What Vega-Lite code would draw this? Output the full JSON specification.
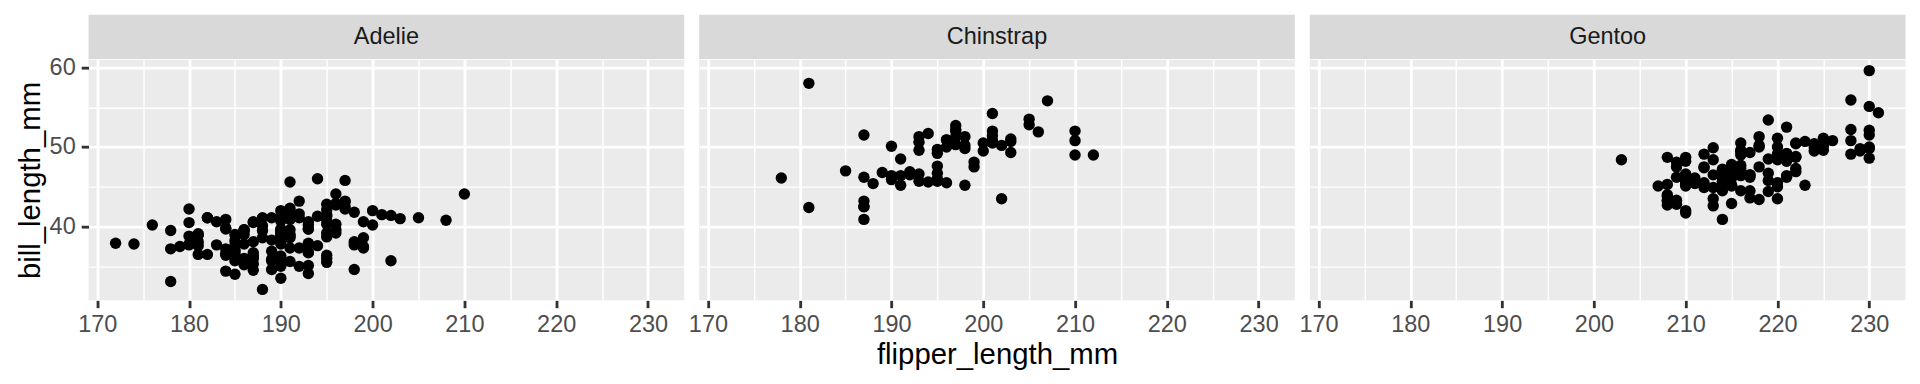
{
  "$schema": "https://vega.github.io/schema/vega-lite/v6.json",
  "background": "white",
  "autosize": {"type": "pad"},
  "padding": {"left": 15.5, "top": 14.67, "right": 0, "bottom": 0},
  "config": {"font": "Liberation Sans", "view": {"stroke": null}},
  "bounds": "flush",
  "columns": 3,
  "spacing": {"row": 0, "column": 14.67},
  "datasets": {
    "penguins": [
      {"species":"Adelie","flipper_length_mm":181,"bill_length_mm":39.1},{"species":"Adelie","flipper_length_mm":186,"bill_length_mm":39.5},{"species":"Adelie","flipper_length_mm":195,"bill_length_mm":40.3},{"species":"Adelie","flipper_length_mm":193,"bill_length_mm":36.7},{"species":"Adelie","flipper_length_mm":190,"bill_length_mm":39.3},{"species":"Adelie","flipper_length_mm":181,"bill_length_mm":38.9},{"species":"Adelie","flipper_length_mm":195,"bill_length_mm":39.2},{"species":"Adelie","flipper_length_mm":193,"bill_length_mm":34.1},{"species":"Adelie","flipper_length_mm":190,"bill_length_mm":42.0},{"species":"Adelie","flipper_length_mm":186,"bill_length_mm":37.8},
      {"species":"Adelie","flipper_length_mm":180,"bill_length_mm":37.8},{"species":"Adelie","flipper_length_mm":182,"bill_length_mm":41.1},{"species":"Adelie","flipper_length_mm":191,"bill_length_mm":38.6},{"species":"Adelie","flipper_length_mm":198,"bill_length_mm":34.6},{"species":"Adelie","flipper_length_mm":185,"bill_length_mm":36.6},{"species":"Adelie","flipper_length_mm":195,"bill_length_mm":38.7},{"species":"Adelie","flipper_length_mm":197,"bill_length_mm":42.5},{"species":"Adelie","flipper_length_mm":184,"bill_length_mm":34.4},{"species":"Adelie","flipper_length_mm":194,"bill_length_mm":46.0},{"species":"Adelie","flipper_length_mm":174,"bill_length_mm":37.8},
      {"species":"Adelie","flipper_length_mm":180,"bill_length_mm":37.7},{"species":"Adelie","flipper_length_mm":189,"bill_length_mm":35.9},{"species":"Adelie","flipper_length_mm":185,"bill_length_mm":38.2},{"species":"Adelie","flipper_length_mm":180,"bill_length_mm":38.8},{"species":"Adelie","flipper_length_mm":187,"bill_length_mm":35.3},{"species":"Adelie","flipper_length_mm":183,"bill_length_mm":40.6},{"species":"Adelie","flipper_length_mm":187,"bill_length_mm":40.5},{"species":"Adelie","flipper_length_mm":172,"bill_length_mm":37.9},{"species":"Adelie","flipper_length_mm":180,"bill_length_mm":40.5},{"species":"Adelie","flipper_length_mm":178,"bill_length_mm":39.5},
      {"species":"Adelie","flipper_length_mm":178,"bill_length_mm":37.2},{"species":"Adelie","flipper_length_mm":188,"bill_length_mm":39.5},{"species":"Adelie","flipper_length_mm":184,"bill_length_mm":40.9},{"species":"Adelie","flipper_length_mm":195,"bill_length_mm":36.4},{"species":"Adelie","flipper_length_mm":196,"bill_length_mm":39.2},{"species":"Adelie","flipper_length_mm":190,"bill_length_mm":38.8},{"species":"Adelie","flipper_length_mm":180,"bill_length_mm":42.2},{"species":"Adelie","flipper_length_mm":181,"bill_length_mm":37.6},{"species":"Adelie","flipper_length_mm":184,"bill_length_mm":39.8},{"species":"Adelie","flipper_length_mm":182,"bill_length_mm":36.5},
      {"species":"Adelie","flipper_length_mm":195,"bill_length_mm":40.8},{"species":"Adelie","flipper_length_mm":186,"bill_length_mm":36.0},{"species":"Adelie","flipper_length_mm":196,"bill_length_mm":44.1},{"species":"Adelie","flipper_length_mm":185,"bill_length_mm":37.0},{"species":"Adelie","flipper_length_mm":190,"bill_length_mm":39.6},{"species":"Adelie","flipper_length_mm":182,"bill_length_mm":41.1},{"species":"Adelie","flipper_length_mm":179,"bill_length_mm":37.5},{"species":"Adelie","flipper_length_mm":190,"bill_length_mm":36.0},{"species":"Adelie","flipper_length_mm":191,"bill_length_mm":42.3},{"species":"Adelie","flipper_length_mm":186,"bill_length_mm":39.6},
      {"species":"Adelie","flipper_length_mm":188,"bill_length_mm":40.1},{"species":"Adelie","flipper_length_mm":190,"bill_length_mm":35.0},{"species":"Adelie","flipper_length_mm":200,"bill_length_mm":42.0},{"species":"Adelie","flipper_length_mm":187,"bill_length_mm":34.5},{"species":"Adelie","flipper_length_mm":191,"bill_length_mm":41.4},{"species":"Adelie","flipper_length_mm":186,"bill_length_mm":39.0},{"species":"Adelie","flipper_length_mm":193,"bill_length_mm":40.6},{"species":"Adelie","flipper_length_mm":181,"bill_length_mm":36.5},{"species":"Adelie","flipper_length_mm":194,"bill_length_mm":37.6},{"species":"Adelie","flipper_length_mm":185,"bill_length_mm":35.7},
      {"species":"Adelie","flipper_length_mm":195,"bill_length_mm":41.3},{"species":"Adelie","flipper_length_mm":185,"bill_length_mm":37.6},{"species":"Adelie","flipper_length_mm":192,"bill_length_mm":41.1},{"species":"Adelie","flipper_length_mm":184,"bill_length_mm":36.4},{"species":"Adelie","flipper_length_mm":192,"bill_length_mm":41.6},{"species":"Adelie","flipper_length_mm":195,"bill_length_mm":35.5},{"species":"Adelie","flipper_length_mm":188,"bill_length_mm":41.1},{"species":"Adelie","flipper_length_mm":190,"bill_length_mm":35.9},{"species":"Adelie","flipper_length_mm":198,"bill_length_mm":41.8},{"species":"Adelie","flipper_length_mm":190,"bill_length_mm":33.5},
      {"species":"Adelie","flipper_length_mm":190,"bill_length_mm":39.7},{"species":"Adelie","flipper_length_mm":196,"bill_length_mm":39.6},{"species":"Adelie","flipper_length_mm":197,"bill_length_mm":45.8},{"species":"Adelie","flipper_length_mm":190,"bill_length_mm":35.5},{"species":"Adelie","flipper_length_mm":195,"bill_length_mm":42.8},{"species":"Adelie","flipper_length_mm":191,"bill_length_mm":40.9},{"species":"Adelie","flipper_length_mm":184,"bill_length_mm":37.2},{"species":"Adelie","flipper_length_mm":187,"bill_length_mm":36.2},{"species":"Adelie","flipper_length_mm":195,"bill_length_mm":42.1},{"species":"Adelie","flipper_length_mm":189,"bill_length_mm":34.6},
      {"species":"Adelie","flipper_length_mm":196,"bill_length_mm":42.9},{"species":"Adelie","flipper_length_mm":187,"bill_length_mm":36.7},{"species":"Adelie","flipper_length_mm":193,"bill_length_mm":35.1},{"species":"Adelie","flipper_length_mm":191,"bill_length_mm":37.3},{"species":"Adelie","flipper_length_mm":194,"bill_length_mm":41.3},{"species":"Adelie","flipper_length_mm":190,"bill_length_mm":36.3},{"species":"Adelie","flipper_length_mm":189,"bill_length_mm":36.9},{"species":"Adelie","flipper_length_mm":189,"bill_length_mm":38.3},{"species":"Adelie","flipper_length_mm":190,"bill_length_mm":38.9},{"species":"Adelie","flipper_length_mm":202,"bill_length_mm":35.7},
      {"species":"Adelie","flipper_length_mm":205,"bill_length_mm":41.1},{"species":"Adelie","flipper_length_mm":185,"bill_length_mm":34.0},{"species":"Adelie","flipper_length_mm":186,"bill_length_mm":39.6},{"species":"Adelie","flipper_length_mm":187,"bill_length_mm":36.2},{"species":"Adelie","flipper_length_mm":208,"bill_length_mm":40.8},{"species":"Adelie","flipper_length_mm":190,"bill_length_mm":38.1},{"species":"Adelie","flipper_length_mm":196,"bill_length_mm":40.3},{"species":"Adelie","flipper_length_mm":178,"bill_length_mm":33.1},{"species":"Adelie","flipper_length_mm":192,"bill_length_mm":43.2},{"species":"Adelie","flipper_length_mm":192,"bill_length_mm":35.0},
      {"species":"Adelie","flipper_length_mm":203,"bill_length_mm":41.0},{"species":"Adelie","flipper_length_mm":183,"bill_length_mm":37.7},{"species":"Adelie","flipper_length_mm":190,"bill_length_mm":37.8},{"species":"Adelie","flipper_length_mm":193,"bill_length_mm":37.9},{"species":"Adelie","flipper_length_mm":184,"bill_length_mm":39.7},{"species":"Adelie","flipper_length_mm":199,"bill_length_mm":38.6},{"species":"Adelie","flipper_length_mm":190,"bill_length_mm":38.2},{"species":"Adelie","flipper_length_mm":181,"bill_length_mm":38.1},{"species":"Adelie","flipper_length_mm":197,"bill_length_mm":43.2},{"species":"Adelie","flipper_length_mm":198,"bill_length_mm":38.1},
      {"species":"Adelie","flipper_length_mm":191,"bill_length_mm":45.6},{"species":"Adelie","flipper_length_mm":193,"bill_length_mm":39.7},{"species":"Adelie","flipper_length_mm":197,"bill_length_mm":42.2},{"species":"Adelie","flipper_length_mm":191,"bill_length_mm":39.6},{"species":"Adelie","flipper_length_mm":196,"bill_length_mm":42.7},{"species":"Adelie","flipper_length_mm":188,"bill_length_mm":38.6},{"species":"Adelie","flipper_length_mm":199,"bill_length_mm":37.3},{"species":"Adelie","flipper_length_mm":189,"bill_length_mm":35.7},{"species":"Adelie","flipper_length_mm":189,"bill_length_mm":41.1},{"species":"Adelie","flipper_length_mm":187,"bill_length_mm":36.2},
      {"species":"Adelie","flipper_length_mm":198,"bill_length_mm":37.7},{"species":"Adelie","flipper_length_mm":176,"bill_length_mm":40.2},{"species":"Adelie","flipper_length_mm":202,"bill_length_mm":41.4},{"species":"Adelie","flipper_length_mm":186,"bill_length_mm":35.2},{"species":"Adelie","flipper_length_mm":199,"bill_length_mm":40.6},{"species":"Adelie","flipper_length_mm":191,"bill_length_mm":38.8},{"species":"Adelie","flipper_length_mm":195,"bill_length_mm":41.5},{"species":"Adelie","flipper_length_mm":191,"bill_length_mm":39.0},{"species":"Adelie","flipper_length_mm":210,"bill_length_mm":44.1},{"species":"Adelie","flipper_length_mm":190,"bill_length_mm":38.5},
      {"species":"Adelie","flipper_length_mm":197,"bill_length_mm":43.1},{"species":"Adelie","flipper_length_mm":193,"bill_length_mm":36.8},{"species":"Adelie","flipper_length_mm":199,"bill_length_mm":37.5},{"species":"Adelie","flipper_length_mm":187,"bill_length_mm":38.1},{"species":"Adelie","flipper_length_mm":190,"bill_length_mm":41.1},{"species":"Adelie","flipper_length_mm":191,"bill_length_mm":35.6},{"species":"Adelie","flipper_length_mm":200,"bill_length_mm":40.2},{"species":"Adelie","flipper_length_mm":185,"bill_length_mm":37.0},{"species":"Adelie","flipper_length_mm":193,"bill_length_mm":39.7},{"species":"Adelie","flipper_length_mm":193,"bill_length_mm":40.2},
      {"species":"Adelie","flipper_length_mm":187,"bill_length_mm":40.6},{"species":"Adelie","flipper_length_mm":188,"bill_length_mm":32.1},{"species":"Adelie","flipper_length_mm":190,"bill_length_mm":40.7},{"species":"Adelie","flipper_length_mm":192,"bill_length_mm":37.3},{"species":"Adelie","flipper_length_mm":185,"bill_length_mm":39.0},{"species":"Adelie","flipper_length_mm":190,"bill_length_mm":39.2},{"species":"Adelie","flipper_length_mm":184,"bill_length_mm":36.6},{"species":"Adelie","flipper_length_mm":195,"bill_length_mm":36.0},{"species":"Adelie","flipper_length_mm":193,"bill_length_mm":37.8},{"species":"Adelie","flipper_length_mm":187,"bill_length_mm":36.0},
      {"species":"Adelie","flipper_length_mm":201,"bill_length_mm":41.5},
      {"species":"Chinstrap","flipper_length_mm":192,"bill_length_mm":46.5},{"species":"Chinstrap","flipper_length_mm":196,"bill_length_mm":50.0},{"species":"Chinstrap","flipper_length_mm":193,"bill_length_mm":51.3},{"species":"Chinstrap","flipper_length_mm":188,"bill_length_mm":45.4},{"species":"Chinstrap","flipper_length_mm":197,"bill_length_mm":52.7},{"species":"Chinstrap","flipper_length_mm":198,"bill_length_mm":45.2},{"species":"Chinstrap","flipper_length_mm":178,"bill_length_mm":46.1},{"species":"Chinstrap","flipper_length_mm":197,"bill_length_mm":51.3},{"species":"Chinstrap","flipper_length_mm":195,"bill_length_mm":46.0},{"species":"Chinstrap","flipper_length_mm":198,"bill_length_mm":51.3},
      {"species":"Chinstrap","flipper_length_mm":193,"bill_length_mm":46.6},{"species":"Chinstrap","flipper_length_mm":194,"bill_length_mm":51.7},{"species":"Chinstrap","flipper_length_mm":185,"bill_length_mm":47.0},{"species":"Chinstrap","flipper_length_mm":201,"bill_length_mm":52.0},{"species":"Chinstrap","flipper_length_mm":190,"bill_length_mm":45.9},{"species":"Chinstrap","flipper_length_mm":201,"bill_length_mm":50.5},{"species":"Chinstrap","flipper_length_mm":197,"bill_length_mm":50.3},{"species":"Chinstrap","flipper_length_mm":181,"bill_length_mm":58.0},{"species":"Chinstrap","flipper_length_mm":190,"bill_length_mm":46.4},{"species":"Chinstrap","flipper_length_mm":195,"bill_length_mm":49.2},
      {"species":"Chinstrap","flipper_length_mm":181,"bill_length_mm":42.4},{"species":"Chinstrap","flipper_length_mm":191,"bill_length_mm":48.5},{"species":"Chinstrap","flipper_length_mm":187,"bill_length_mm":43.2},{"species":"Chinstrap","flipper_length_mm":193,"bill_length_mm":50.6},{"species":"Chinstrap","flipper_length_mm":195,"bill_length_mm":46.7},{"species":"Chinstrap","flipper_length_mm":197,"bill_length_mm":52.0},{"species":"Chinstrap","flipper_length_mm":200,"bill_length_mm":50.5},{"species":"Chinstrap","flipper_length_mm":200,"bill_length_mm":49.5},{"species":"Chinstrap","flipper_length_mm":191,"bill_length_mm":46.4},{"species":"Chinstrap","flipper_length_mm":205,"bill_length_mm":52.8},
      {"species":"Chinstrap","flipper_length_mm":187,"bill_length_mm":40.9},{"species":"Chinstrap","flipper_length_mm":201,"bill_length_mm":54.2},{"species":"Chinstrap","flipper_length_mm":187,"bill_length_mm":42.5},{"species":"Chinstrap","flipper_length_mm":203,"bill_length_mm":51.0},{"species":"Chinstrap","flipper_length_mm":195,"bill_length_mm":49.7},{"species":"Chinstrap","flipper_length_mm":199,"bill_length_mm":47.5},{"species":"Chinstrap","flipper_length_mm":195,"bill_length_mm":47.6},{"species":"Chinstrap","flipper_length_mm":210,"bill_length_mm":52.0},{"species":"Chinstrap","flipper_length_mm":192,"bill_length_mm":46.9},{"species":"Chinstrap","flipper_length_mm":205,"bill_length_mm":53.5},
      {"species":"Chinstrap","flipper_length_mm":210,"bill_length_mm":49.0},{"species":"Chinstrap","flipper_length_mm":187,"bill_length_mm":46.2},{"species":"Chinstrap","flipper_length_mm":196,"bill_length_mm":50.9},{"species":"Chinstrap","flipper_length_mm":196,"bill_length_mm":45.5},{"species":"Chinstrap","flipper_length_mm":196,"bill_length_mm":50.9},{"species":"Chinstrap","flipper_length_mm":201,"bill_length_mm":50.8},{"species":"Chinstrap","flipper_length_mm":190,"bill_length_mm":50.1},{"species":"Chinstrap","flipper_length_mm":212,"bill_length_mm":49.0},{"species":"Chinstrap","flipper_length_mm":187,"bill_length_mm":51.5},{"species":"Chinstrap","flipper_length_mm":198,"bill_length_mm":49.8},
      {"species":"Chinstrap","flipper_length_mm":199,"bill_length_mm":48.1},{"species":"Chinstrap","flipper_length_mm":201,"bill_length_mm":51.4},{"species":"Chinstrap","flipper_length_mm":193,"bill_length_mm":45.7},{"species":"Chinstrap","flipper_length_mm":203,"bill_length_mm":50.7},{"species":"Chinstrap","flipper_length_mm":187,"bill_length_mm":42.5},{"species":"Chinstrap","flipper_length_mm":197,"bill_length_mm":52.2},{"species":"Chinstrap","flipper_length_mm":191,"bill_length_mm":45.2},{"species":"Chinstrap","flipper_length_mm":203,"bill_length_mm":49.3},{"species":"Chinstrap","flipper_length_mm":202,"bill_length_mm":50.2},{"species":"Chinstrap","flipper_length_mm":194,"bill_length_mm":45.6},
      {"species":"Chinstrap","flipper_length_mm":206,"bill_length_mm":51.9},{"species":"Chinstrap","flipper_length_mm":189,"bill_length_mm":46.8},{"species":"Chinstrap","flipper_length_mm":195,"bill_length_mm":45.7},{"species":"Chinstrap","flipper_length_mm":207,"bill_length_mm":55.8},{"species":"Chinstrap","flipper_length_mm":202,"bill_length_mm":43.5},{"species":"Chinstrap","flipper_length_mm":193,"bill_length_mm":49.6},{"species":"Chinstrap","flipper_length_mm":210,"bill_length_mm":50.8},{"species":"Chinstrap","flipper_length_mm":198,"bill_length_mm":50.2},
      {"species":"Gentoo","flipper_length_mm":211,"bill_length_mm":46.1},{"species":"Gentoo","flipper_length_mm":230,"bill_length_mm":50.0},{"species":"Gentoo","flipper_length_mm":210,"bill_length_mm":48.7},{"species":"Gentoo","flipper_length_mm":218,"bill_length_mm":50.0},{"species":"Gentoo","flipper_length_mm":215,"bill_length_mm":47.6},{"species":"Gentoo","flipper_length_mm":210,"bill_length_mm":46.5},{"species":"Gentoo","flipper_length_mm":211,"bill_length_mm":45.4},{"species":"Gentoo","flipper_length_mm":219,"bill_length_mm":46.7},{"species":"Gentoo","flipper_length_mm":209,"bill_length_mm":43.3},{"species":"Gentoo","flipper_length_mm":215,"bill_length_mm":46.8},
      {"species":"Gentoo","flipper_length_mm":214,"bill_length_mm":40.9},{"species":"Gentoo","flipper_length_mm":216,"bill_length_mm":49.0},{"species":"Gentoo","flipper_length_mm":214,"bill_length_mm":45.5},{"species":"Gentoo","flipper_length_mm":213,"bill_length_mm":48.4},{"species":"Gentoo","flipper_length_mm":210,"bill_length_mm":45.8},{"species":"Gentoo","flipper_length_mm":217,"bill_length_mm":49.3},{"species":"Gentoo","flipper_length_mm":210,"bill_length_mm":42.0},{"species":"Gentoo","flipper_length_mm":221,"bill_length_mm":49.2},{"species":"Gentoo","flipper_length_mm":209,"bill_length_mm":46.2},{"species":"Gentoo","flipper_length_mm":222,"bill_length_mm":48.7},
      {"species":"Gentoo","flipper_length_mm":218,"bill_length_mm":50.2},{"species":"Gentoo","flipper_length_mm":215,"bill_length_mm":45.1},{"species":"Gentoo","flipper_length_mm":213,"bill_length_mm":46.5},{"species":"Gentoo","flipper_length_mm":215,"bill_length_mm":46.3},{"species":"Gentoo","flipper_length_mm":215,"bill_length_mm":42.9},{"species":"Gentoo","flipper_length_mm":215,"bill_length_mm":46.1},{"species":"Gentoo","flipper_length_mm":216,"bill_length_mm":44.5},{"species":"Gentoo","flipper_length_mm":215,"bill_length_mm":47.8},{"species":"Gentoo","flipper_length_mm":210,"bill_length_mm":48.2},{"species":"Gentoo","flipper_length_mm":220,"bill_length_mm":50.0},
      {"species":"Gentoo","flipper_length_mm":222,"bill_length_mm":47.3},{"species":"Gentoo","flipper_length_mm":209,"bill_length_mm":42.8},{"species":"Gentoo","flipper_length_mm":207,"bill_length_mm":45.1},{"species":"Gentoo","flipper_length_mm":230,"bill_length_mm":59.6},{"species":"Gentoo","flipper_length_mm":220,"bill_length_mm":49.1},{"species":"Gentoo","flipper_length_mm":220,"bill_length_mm":48.4},{"species":"Gentoo","flipper_length_mm":213,"bill_length_mm":42.6},{"species":"Gentoo","flipper_length_mm":219,"bill_length_mm":44.4},{"species":"Gentoo","flipper_length_mm":208,"bill_length_mm":44.0},{"species":"Gentoo","flipper_length_mm":208,"bill_length_mm":48.7},
      {"species":"Gentoo","flipper_length_mm":208,"bill_length_mm":42.7},{"species":"Gentoo","flipper_length_mm":225,"bill_length_mm":49.6},{"species":"Gentoo","flipper_length_mm":210,"bill_length_mm":45.3},{"species":"Gentoo","flipper_length_mm":216,"bill_length_mm":49.6},{"species":"Gentoo","flipper_length_mm":222,"bill_length_mm":50.5},{"species":"Gentoo","flipper_length_mm":217,"bill_length_mm":43.6},{"species":"Gentoo","flipper_length_mm":210,"bill_length_mm":45.5},{"species":"Gentoo","flipper_length_mm":225,"bill_length_mm":50.5},{"species":"Gentoo","flipper_length_mm":213,"bill_length_mm":44.9},{"species":"Gentoo","flipper_length_mm":215,"bill_length_mm":45.2},
      {"species":"Gentoo","flipper_length_mm":210,"bill_length_mm":46.6},{"species":"Gentoo","flipper_length_mm":220,"bill_length_mm":48.5},{"species":"Gentoo","flipper_length_mm":210,"bill_length_mm":45.1},{"species":"Gentoo","flipper_length_mm":225,"bill_length_mm":50.1},{"species":"Gentoo","flipper_length_mm":217,"bill_length_mm":46.5},{"species":"Gentoo","flipper_length_mm":220,"bill_length_mm":45.0},{"species":"Gentoo","flipper_length_mm":208,"bill_length_mm":43.8},{"species":"Gentoo","flipper_length_mm":220,"bill_length_mm":45.5},{"species":"Gentoo","flipper_length_mm":208,"bill_length_mm":43.2},{"species":"Gentoo","flipper_length_mm":224,"bill_length_mm":50.4},
      {"species":"Gentoo","flipper_length_mm":208,"bill_length_mm":45.3},{"species":"Gentoo","flipper_length_mm":221,"bill_length_mm":46.2},{"species":"Gentoo","flipper_length_mm":214,"bill_length_mm":45.7},{"species":"Gentoo","flipper_length_mm":231,"bill_length_mm":54.3},{"species":"Gentoo","flipper_length_mm":219,"bill_length_mm":45.8},{"species":"Gentoo","flipper_length_mm":230,"bill_length_mm":49.8},{"species":"Gentoo","flipper_length_mm":214,"bill_length_mm":46.2},{"species":"Gentoo","flipper_length_mm":229,"bill_length_mm":49.5},{"species":"Gentoo","flipper_length_mm":220,"bill_length_mm":43.5},{"species":"Gentoo","flipper_length_mm":223,"bill_length_mm":50.7},
      {"species":"Gentoo","flipper_length_mm":216,"bill_length_mm":47.7},{"species":"Gentoo","flipper_length_mm":221,"bill_length_mm":46.4},{"species":"Gentoo","flipper_length_mm":221,"bill_length_mm":48.2},{"species":"Gentoo","flipper_length_mm":217,"bill_length_mm":46.5},{"species":"Gentoo","flipper_length_mm":216,"bill_length_mm":46.4},{"species":"Gentoo","flipper_length_mm":230,"bill_length_mm":48.6},{"species":"Gentoo","flipper_length_mm":209,"bill_length_mm":47.5},{"species":"Gentoo","flipper_length_mm":220,"bill_length_mm":51.1},{"species":"Gentoo","flipper_length_mm":215,"bill_length_mm":45.2},{"species":"Gentoo","flipper_length_mm":223,"bill_length_mm":45.2},
      {"species":"Gentoo","flipper_length_mm":212,"bill_length_mm":49.1},{"species":"Gentoo","flipper_length_mm":221,"bill_length_mm":52.5},{"species":"Gentoo","flipper_length_mm":212,"bill_length_mm":47.4},{"species":"Gentoo","flipper_length_mm":224,"bill_length_mm":50.0},{"species":"Gentoo","flipper_length_mm":212,"bill_length_mm":44.9},{"species":"Gentoo","flipper_length_mm":228,"bill_length_mm":50.8},{"species":"Gentoo","flipper_length_mm":218,"bill_length_mm":43.4},{"species":"Gentoo","flipper_length_mm":218,"bill_length_mm":51.3},{"species":"Gentoo","flipper_length_mm":212,"bill_length_mm":47.5},{"species":"Gentoo","flipper_length_mm":230,"bill_length_mm":52.1},
      {"species":"Gentoo","flipper_length_mm":218,"bill_length_mm":47.5},{"species":"Gentoo","flipper_length_mm":228,"bill_length_mm":52.2},{"species":"Gentoo","flipper_length_mm":212,"bill_length_mm":45.5},{"species":"Gentoo","flipper_length_mm":224,"bill_length_mm":49.5},{"species":"Gentoo","flipper_length_mm":214,"bill_length_mm":44.5},{"species":"Gentoo","flipper_length_mm":226,"bill_length_mm":50.8},{"species":"Gentoo","flipper_length_mm":216,"bill_length_mm":49.4},{"species":"Gentoo","flipper_length_mm":222,"bill_length_mm":46.9},{"species":"Gentoo","flipper_length_mm":203,"bill_length_mm":48.4},{"species":"Gentoo","flipper_length_mm":225,"bill_length_mm":51.1},
      {"species":"Gentoo","flipper_length_mm":219,"bill_length_mm":48.5},{"species":"Gentoo","flipper_length_mm":228,"bill_length_mm":55.9},{"species":"Gentoo","flipper_length_mm":215,"bill_length_mm":47.2},{"species":"Gentoo","flipper_length_mm":228,"bill_length_mm":49.1},{"species":"Gentoo","flipper_length_mm":216,"bill_length_mm":47.3},{"species":"Gentoo","flipper_length_mm":215,"bill_length_mm":46.8},{"species":"Gentoo","flipper_length_mm":210,"bill_length_mm":41.7},{"species":"Gentoo","flipper_length_mm":219,"bill_length_mm":53.4},{"species":"Gentoo","flipper_length_mm":208,"bill_length_mm":43.3},{"species":"Gentoo","flipper_length_mm":209,"bill_length_mm":48.1},
      {"species":"Gentoo","flipper_length_mm":216,"bill_length_mm":50.5},{"species":"Gentoo","flipper_length_mm":229,"bill_length_mm":49.8},{"species":"Gentoo","flipper_length_mm":213,"bill_length_mm":43.5},{"species":"Gentoo","flipper_length_mm":230,"bill_length_mm":51.5},{"species":"Gentoo","flipper_length_mm":217,"bill_length_mm":46.2},{"species":"Gentoo","flipper_length_mm":230,"bill_length_mm":55.1},{"species":"Gentoo","flipper_length_mm":217,"bill_length_mm":44.5},{"species":"Gentoo","flipper_length_mm":222,"bill_length_mm":48.8},{"species":"Gentoo","flipper_length_mm":214,"bill_length_mm":47.2},{"species":"Gentoo","flipper_length_mm":215,"bill_length_mm":46.8},
      {"species":"Gentoo","flipper_length_mm":222,"bill_length_mm":50.4},{"species":"Gentoo","flipper_length_mm":212,"bill_length_mm":45.2},{"species":"Gentoo","flipper_length_mm":213,"bill_length_mm":49.9}
    ]
  },
  "concat": [
    {
      "data": {"name": "penguins"},
      "transform": [{"filter": "datum.species === 'Adelie'"}, {"aggregate": [{"op": "count", "as": "n"}], "groupby": ["species"]}],
      "width": 595.7, "height": 44.3,
      "view": {"fill": "#D9D9D9", "stroke": null},
      "mark": {"type": "text", "font": "Liberation Sans", "fontSize": 23.47, "color": "#1A1A1A"},
      "encoding": {"text": {"field": "species", "type": "nominal"}}
    },
    {
      "data": {"name": "penguins"},
      "transform": [{"filter": "datum.species === 'Chinstrap'"}, {"aggregate": [{"op": "count", "as": "n"}], "groupby": ["species"]}],
      "width": 595.7, "height": 44.3,
      "view": {"fill": "#D9D9D9", "stroke": null},
      "mark": {"type": "text", "font": "Liberation Sans", "fontSize": 23.47, "color": "#1A1A1A"},
      "encoding": {"text": {"field": "species", "type": "nominal"}}
    },
    {
      "data": {"name": "penguins"},
      "transform": [{"filter": "datum.species === 'Gentoo'"}, {"aggregate": [{"op": "count", "as": "n"}], "groupby": ["species"]}],
      "width": 595.7, "height": 44.3,
      "view": {"fill": "#D9D9D9", "stroke": null},
      "mark": {"type": "text", "font": "Liberation Sans", "fontSize": 23.47, "color": "#1A1A1A"},
      "encoding": {"text": {"field": "species", "type": "nominal"}}
    },
    {
      "data": {"name": "penguins"},
      "transform": [{"filter": "datum.species === 'Adelie'"}],
      "width": 595.7, "height": 240.7,
      "view": {"fill": "#EBEBEB", "stroke": null},
      "resolve": {"axis": {"x": "independent", "y": "independent"}},
      "layer": [
        {
          "mark": {"type": "point", "opacity": 0},
          "encoding": {
            "x": {"field": "flipper_length_mm", "type": "quantitative", "scale": {"domain": [169.05, 233.95], "nice": false, "zero": false},
                  "axis": {"orient": "bottom", "values": [175, 185, 195, 205, 215, 225], "grid": true, "gridColor": "white", "gridWidth": 1.42, "labels": false, "ticks": false, "domain": false, "title": null}},
            "y": {"field": "bill_length_mm", "type": "quantitative", "scale": {"domain": [30.725, 60.975], "nice": false, "zero": false},
                  "axis": {"orient": "left", "values": [35, 45, 55], "grid": true, "gridColor": "white", "gridWidth": 1.42, "labels": false, "ticks": false, "domain": false, "title": null}}
          }
        },
        {
          "mark": {"type": "circle", "size": 130, "color": "black", "opacity": 1},
          "encoding": {
            "x": {"field": "flipper_length_mm", "type": "quantitative", "scale": {"domain": [169.05, 233.95], "nice": false, "zero": false},
                  "axis": {"orient": "bottom", "values": [170, 180, 190, 200, 210, 220, 230], "grid": true, "gridColor": "white", "gridWidth": 2.84, "domain": false, "ticks": true, "tickColor": "#333333", "tickWidth": 2.84, "tickSize": 7.33, "labelFont": "Liberation Sans", "labelFontSize": 23.47, "labelColor": "#4D4D4D", "labelPadding": 5, "labelFlush": false, "labelOverlap": false, "title": null}},
            "y": {"field": "bill_length_mm", "type": "quantitative", "scale": {"domain": [30.725, 60.975], "nice": false, "zero": false},
                  "axis": {"orient": "left", "values": [40, 50, 60], "grid": true, "gridColor": "white", "gridWidth": 2.84, "domain": false, "ticks": true, "tickColor": "#333333", "tickWidth": 2.84, "tickSize": 7.33, "labelFont": "Liberation Sans", "labelFontSize": 23.47, "labelColor": "#4D4D4D", "labelPadding": 6, "labelFlush": false, "labelOverlap": false, "title": "bill_length_mm", "titleFont": "Liberation Sans", "titleFontSize": 29.33, "titleFontWeight": "normal", "titleColor": "black", "titlePadding": 3.8}}
          }
        }
      ]
    },
    {
      "data": {"name": "penguins"},
      "transform": [{"filter": "datum.species === 'Chinstrap'"}],
      "width": 595.7, "height": 240.7,
      "view": {"fill": "#EBEBEB", "stroke": null},
      "resolve": {"axis": {"x": "independent", "y": "independent"}},
      "layer": [
        {
          "mark": {"type": "point", "opacity": 0},
          "encoding": {
            "x": {"field": "flipper_length_mm", "type": "quantitative", "scale": {"domain": [169.05, 233.95], "nice": false, "zero": false},
                  "axis": {"orient": "bottom", "values": [175, 185, 195, 205, 215, 225], "grid": true, "gridColor": "white", "gridWidth": 1.42, "labels": false, "ticks": false, "domain": false, "title": null}},
            "y": {"field": "bill_length_mm", "type": "quantitative", "scale": {"domain": [30.725, 60.975], "nice": false, "zero": false},
                  "axis": {"orient": "left", "values": [35, 45, 55], "grid": true, "gridColor": "white", "gridWidth": 1.42, "labels": false, "ticks": false, "domain": false, "title": null}}
          }
        },
        {
          "mark": {"type": "circle", "size": 130, "color": "black", "opacity": 1},
          "encoding": {
            "x": {"field": "flipper_length_mm", "type": "quantitative", "scale": {"domain": [169.05, 233.95], "nice": false, "zero": false},
                  "axis": {"orient": "bottom", "values": [170, 180, 190, 200, 210, 220, 230], "grid": true, "gridColor": "white", "gridWidth": 2.84, "domain": false, "ticks": true, "tickColor": "#333333", "tickWidth": 2.84, "tickSize": 7.33, "labelFont": "Liberation Sans", "labelFontSize": 23.47, "labelColor": "#4D4D4D", "labelPadding": 5, "labelFlush": false, "labelOverlap": false, "title": "flipper_length_mm", "titleFont": "Liberation Sans", "titleFontSize": 29.33, "titleFontWeight": "normal", "titleColor": "black", "titlePadding": 4}},
            "y": {"field": "bill_length_mm", "type": "quantitative", "scale": {"domain": [30.725, 60.975], "nice": false, "zero": false},
                  "axis": {"orient": "left", "values": [40, 50, 60], "grid": true, "gridColor": "white", "gridWidth": 2.84, "domain": false, "ticks": false, "labels": false, "title": null}}
          }
        }
      ]
    },
    {
      "data": {"name": "penguins"},
      "transform": [{"filter": "datum.species === 'Gentoo'"}],
      "width": 595.7, "height": 240.7,
      "view": {"fill": "#EBEBEB", "stroke": null},
      "resolve": {"axis": {"x": "independent", "y": "independent"}},
      "layer": [
        {
          "mark": {"type": "point", "opacity": 0},
          "encoding": {
            "x": {"field": "flipper_length_mm", "type": "quantitative", "scale": {"domain": [169.05, 233.95], "nice": false, "zero": false},
                  "axis": {"orient": "bottom", "values": [175, 185, 195, 205, 215, 225], "grid": true, "gridColor": "white", "gridWidth": 1.42, "labels": false, "ticks": false, "domain": false, "title": null}},
            "y": {"field": "bill_length_mm", "type": "quantitative", "scale": {"domain": [30.725, 60.975], "nice": false, "zero": false},
                  "axis": {"orient": "left", "values": [35, 45, 55], "grid": true, "gridColor": "white", "gridWidth": 1.42, "labels": false, "ticks": false, "domain": false, "title": null}}
          }
        },
        {
          "mark": {"type": "circle", "size": 130, "color": "black", "opacity": 1},
          "encoding": {
            "x": {"field": "flipper_length_mm", "type": "quantitative", "scale": {"domain": [169.05, 233.95], "nice": false, "zero": false},
                  "axis": {"orient": "bottom", "values": [170, 180, 190, 200, 210, 220, 230], "grid": true, "gridColor": "white", "gridWidth": 2.84, "domain": false, "ticks": true, "tickColor": "#333333", "tickWidth": 2.84, "tickSize": 7.33, "labelFont": "Liberation Sans", "labelFontSize": 23.47, "labelColor": "#4D4D4D", "labelPadding": 5, "labelFlush": false, "labelOverlap": false, "title": null}},
            "y": {"field": "bill_length_mm", "type": "quantitative", "scale": {"domain": [30.725, 60.975], "nice": false, "zero": false},
                  "axis": {"orient": "left", "values": [40, 50, 60], "grid": true, "gridColor": "white", "gridWidth": 2.84, "domain": false, "ticks": false, "labels": false, "title": null}}
          }
        }
      ]
    }
  ]
}
